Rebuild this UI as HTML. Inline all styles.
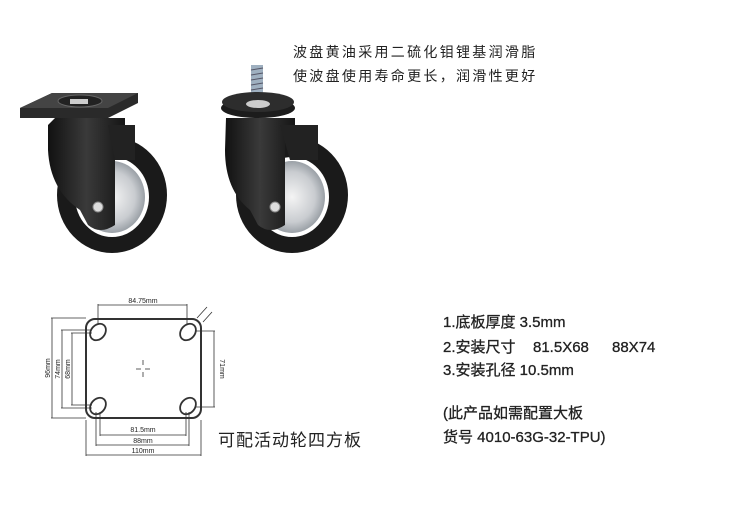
<!DOCTYPE html>
<html><head><meta charset="utf-8"><style>
html,body{margin:0;padding:0;background:#fff;width:746px;height:514px;overflow:hidden}
svg{display:block}
text{font-family:"Liberation Sans","Noto Sans CJK SC",sans-serif;fill:#222}
</style></head><body>
<svg width="746" height="514" viewBox="0 0 746 514" xmlns="http://www.w3.org/2000/svg">
<defs>
<radialGradient id="hub" cx="50%" cy="50%" r="50%"><stop offset="0" stop-color="#f4f4f4"/><stop offset="0.7" stop-color="#c9ccd0"/><stop offset="1" stop-color="#9aa0a6"/></radialGradient>
<linearGradient id="fork" x1="0" x2="1"><stop offset="0" stop-color="#111"/><stop offset="0.5" stop-color="#3a3a3a"/><stop offset="1" stop-color="#151515"/></linearGradient>
</defs>
<g>
<ellipse cx="112" cy="195" rx="55" ry="58" fill="#1a1a1a"/>
<ellipse cx="112" cy="197" rx="37" ry="40" fill="#fff"/>
<ellipse cx="112" cy="197" rx="33" ry="36" fill="url(#hub)"/>
<path d="M20 108 L52 93 L138 93 L138 103 L108 118 L20 118 Z" fill="#2a2a2a"/>
<path d="M20 108 L52 93 L138 93 L108 108 Z" fill="#444"/>
<ellipse cx="80" cy="101" rx="22" ry="6" fill="#222" stroke="#666"/>
<rect x="70" y="99" width="18" height="5" fill="#ccc"/>
<path d="M55 118 L125 118 L125 137 L115 140 L115 225 Q100 235 88 225 L80 210 Q50 190 48 150 L48 125 Z" fill="url(#fork)"/>
<path d="M108 125 L135 125 L135 160 L115 160 Z" fill="#222"/>
<circle cx="98" cy="207" r="5" fill="#ddd" stroke="#888"/>
</g>
<g>
<ellipse cx="292" cy="195" rx="56" ry="58" fill="#1a1a1a"/>
<ellipse cx="292" cy="197" rx="37" ry="40" fill="#fff"/>
<ellipse cx="292" cy="197" rx="33" ry="36" fill="url(#hub)"/>
<rect x="251" y="65" width="12" height="40" fill="#9fb0c0"/>
<g stroke="#556" stroke-width="1"><line x1="251" y1="70" x2="263" y2="68"/><line x1="251" y1="75" x2="263" y2="73"/><line x1="251" y1="80" x2="263" y2="78"/><line x1="251" y1="85" x2="263" y2="83"/><line x1="251" y1="90" x2="263" y2="88"/><line x1="251" y1="95" x2="263" y2="93"/></g>
<ellipse cx="258" cy="108" rx="37" ry="10" fill="#1c1c1c"/>
<ellipse cx="258" cy="102" rx="36" ry="10" fill="#2d2d2d"/>
<ellipse cx="258" cy="104" rx="12" ry="4" fill="#ccc"/>
<path d="M226 118 L295 118 L295 137 L285 140 L285 225 Q270 235 258 225 L250 210 Q225 190 225 150 Z" fill="url(#fork)"/>
<path d="M280 125 L318 125 L318 160 L290 160 Z" fill="#222"/>
<circle cx="275" cy="207" r="5" fill="#ddd" stroke="#888"/>
</g>
<text x="293" y="57" font-size="14" letter-spacing="2.3">波盘黄油采用二硫化钼锂基润滑脂</text>
<text x="293" y="81" font-size="14" letter-spacing="2.3">使波盘使用寿命更长，润滑性更好</text>
<g fill="none" stroke="#333" stroke-width="0.8">
<rect x="86" y="319" width="115" height="99" rx="9" stroke-width="2"/>
<ellipse cx="98" cy="332" rx="7" ry="9" transform="rotate(40 98 332)" stroke-width="1.8"/>
<ellipse cx="188" cy="332" rx="7" ry="9" transform="rotate(40 188 332)" stroke-width="1.8"/>
<ellipse cx="98" cy="406" rx="7" ry="9" transform="rotate(40 98 406)" stroke-width="1.8"/>
<ellipse cx="188" cy="406" rx="7" ry="9" transform="rotate(40 188 406)" stroke-width="1.8"/>
<line x1="98" y1="304" x2="98" y2="325"/><line x1="187" y1="304" x2="187" y2="325"/><line x1="98" y1="305" x2="187" y2="305"/>
<line x1="51" y1="318" x2="86" y2="318"/><line x1="51" y1="418" x2="86" y2="418"/><line x1="52" y1="318" x2="52" y2="418"/>
<line x1="61" y1="330" x2="92" y2="330"/><line x1="61" y1="408" x2="92" y2="408"/><line x1="62" y1="330" x2="62" y2="408"/>
<line x1="71" y1="333" x2="92" y2="333"/><line x1="71" y1="405" x2="92" y2="405"/><line x1="72" y1="333" x2="72" y2="405"/>
<line x1="195" y1="331" x2="215" y2="331"/><line x1="195" y1="407" x2="215" y2="407"/><line x1="214" y1="331" x2="214" y2="407"/>
<line x1="100" y1="412" x2="100" y2="436"/><line x1="186" y1="412" x2="186" y2="436"/><line x1="100" y1="435" x2="186" y2="435"/>
<line x1="96" y1="412" x2="96" y2="446"/><line x1="189" y1="412" x2="189" y2="446"/><line x1="96" y1="445" x2="189" y2="445"/>
<line x1="86" y1="420" x2="86" y2="456"/><line x1="201" y1="420" x2="201" y2="456"/><line x1="86" y1="455" x2="201" y2="455"/>
<line x1="197" y1="318" x2="207" y2="307"/><line x1="203" y1="322" x2="212" y2="312"/>
<line x1="136" y1="369" x2="141" y2="369"/><line x1="145" y1="369" x2="150" y2="369"/><line x1="143" y1="360" x2="143" y2="365"/><line x1="143" y1="372" x2="143" y2="377"/>
</g>
<g font-size="7" fill="#333" text-anchor="middle">
<text x="143" y="303">84.75mm</text>
<text x="143" y="432">81.5mm</text>
<text x="143" y="443">88mm</text>
<text x="143" y="453">110mm</text>
<text transform="translate(50 368) rotate(-90)">96mm</text>
<text transform="translate(60 369) rotate(-90)">74mm</text>
<text transform="translate(70 369) rotate(-90)">68mm</text>
<text transform="translate(220 369) rotate(90)">71mm</text>
</g>
<text x="218" y="446" font-size="17" letter-spacing="1">可配活动轮四方板</text>
<g font-size="15" stroke="#222" stroke-width="0.3">
<text x="443" y="327">1.底板厚度 3.5mm</text>
<text y="352"><tspan x="443">2.安装尺寸</tspan><tspan x="533">81.5X68</tspan><tspan x="612">88X74</tspan></text>
<text x="443" y="375">3.安装孔径 10.5mm</text>
<text x="443" y="418">(此产品如需配置大板</text>
<text x="443" y="442">货号 4010-63G-32-TPU)</text>
</g>
</svg>
</body></html>
